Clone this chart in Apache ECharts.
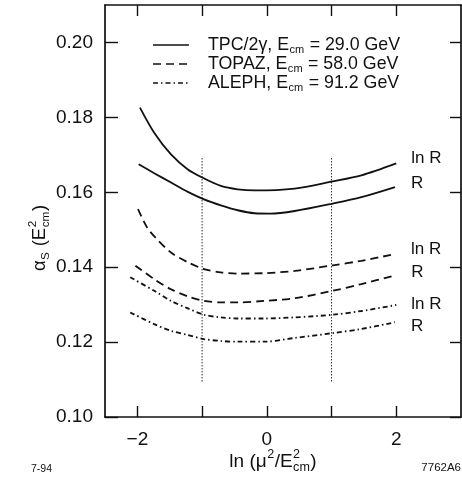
<!DOCTYPE html>
<html>
<head>
<meta charset="utf-8">
<script src="https://cdn.jsdelivr.net/npm/echarts@6/dist/echarts.min.js"></script>
<style>
html,body{margin:0;padding:0;background:#fff;}
#chart{width:462px;height:479px;}
</style>
</head>
<body>
<div id="chart"></div>
<script>
// ---- data (x = ln(mu^2/Ecm^2), y = alpha_s) ----
const tpcLnR   = [[-1.96,0.1826],[-1.74,0.1759],[-1.48,0.1701],[-1.22,0.1661],[-0.97,0.1637],[-0.71,0.1617],[-0.45,0.1608],[-0.19,0.1605],[0.43,0.1610],[1.02,0.1629],[1.46,0.1645],[2.0,0.1677]];
const tpcR     = [[-1.98,0.1675],[-1.74,0.1651],[-1.48,0.1626],[-1.22,0.1601],[-0.97,0.1581],[-0.71,0.1565],[-0.45,0.1552],[-0.19,0.1544],[0.05,0.1543],[0.43,0.1550],[1.02,0.1570],[1.46,0.1587],[1.98,0.1614]];
const topazLnR = [[-1.99,0.1555],[-1.85,0.1506],[-1.72,0.1479],[-1.48,0.1439],[-1.22,0.1413],[-0.97,0.1395],[-0.71,0.1386],[-0.45,0.1383],[-0.04,0.1384],[0.43,0.1390],[1.02,0.1405],[1.46,0.1417],[1.98,0.1435]];
const topazR   = [[-2.03,0.1404],[-1.74,0.1368],[-1.48,0.1341],[-1.22,0.1322],[-0.97,0.1310],[-0.71,0.1306],[-0.45,0.1306],[-0.04,0.1310],[0.43,0.1317],[1.02,0.1337],[1.46,0.1355],[2.0,0.1379]];
const alephLnR = [[-2.11,0.1373],[-1.74,0.1337],[-1.48,0.1310],[-1.22,0.1290],[-0.97,0.1273],[-0.71,0.1266],[-0.45,0.1263],[-0.04,0.1263],[0.43,0.1266],[1.02,0.1273],[1.46,0.1283],[2.0,0.1299]];
const alephR   = [[-2.11,0.1279],[-1.74,0.1248],[-1.48,0.1230],[-1.22,0.1219],[-0.97,0.1208],[-0.71,0.1203],[-0.45,0.1201],[-0.04,0.1201],[0.43,0.1211],[1.02,0.1224],[1.46,0.1235],[1.98,0.1253]];
const dotLineX = [-1, 1];
const dotLineY = [0.1095, 0.1696];
const xTicks = [-2, -1, 0, 1, 2];
const xLabels = [-2, 0, 2];
const yTicks = [0.10, 0.12, 0.14, 0.16, 0.18, 0.20];
const legendNames = ['TPC/2\u03b3, E', 'TOPAZ, E', 'ALEPH, E'];
const legendTails = [' = 29.0 GeV', ' = 58.0 GeV', ' = 91.2 GeV'];

// ---- styling helpers ----
const FONT = '"Liberation Sans", Arial, Helvetica, sans-serif';
const INK = '#111';
const DASH = [8, 5];
const DASHDOT = [5, 3, 1.5, 3];
const mctx = document.createElement('canvas').getContext('2d');
function tw(s, size) { mctx.font = size + 'px ' + FONT; return mctx.measureText(s).width; }
function txt(s, x, y, size) {
  return { type: 'text', x: x, y: y, silent: true,
    style: { text: s, fontSize: size, fontFamily: FONT, fill: INK, align: 'left', verticalAlign: 'middle' } };
}
// parts: strings (normal) or {sup, sub} stacked
function mathRow(parts, size, subScale) {
  const ss = size * (subScale || 0.62);
  let x = 0; const els = [];
  parts.forEach(p => {
    if (typeof p === 'string') { els.push(txt(p, x, 0, size)); x += tw(p, size); }
    else {
      let w = 0;
      if (p.sup) { els.push(txt(p.sup, x + 0.5, -size * 0.40, ss)); w = Math.max(w, tw(p.sup, ss) + 0.5); }
      if (p.sub) { els.push(txt(p.sub, x + 0.5, size * 0.30, ss)); w = Math.max(w, tw(p.sub, ss) + 0.5); }
      x += w + 0.5;
    }
  });
  return { els, width: x };
}
function centeredGroup(parts, size, cx, cy, rot, subScale) {
  const r = mathRow(parts, size, subScale);
  r.els.forEach(e => { e.x -= r.width / 2; });
  return { type: 'group', x: cx, y: cy, rotation: rot || 0, children: r.els };
}

const graphics = [];
// axis titles
graphics.push(centeredGroup(['ln (\u03bc', { sup: '2' }, '/E', { sup: '2', sub: 'cm' }, ')'], 19, 273, 462, 0, 0.66));
graphics.push(centeredGroup(['\u03b1', { sub: 'S' }, ' (E', { sup: '2', sub: 'cm' }, ')'], 18.5, 40, 238, Math.PI / 2, 0.64));
// legend
const legendDash = [null, DASH, DASHDOT];
const legendY = [45, 64, 83];
legendNames.forEach((nm, i) => {
  graphics.push({ type: 'line', silent: true, shape: { x1: 153, y1: legendY[i], x2: 189, y2: legendY[i] },
    style: { stroke: INK, lineWidth: 1.6, lineDash: legendDash[i] } });
  const r = mathRow([nm, { sub: 'cm' }, legendTails[i]], 17.8);
  graphics.push({ type: 'group', x: 208, y: legendY[i], children: r.els });
});
// figure codes
graphics.push(txt('7-94', 31, 469, 10.5));
graphics.push({ type: 'text', x: 461, y: 468, silent: true,
  style: { text: '7762A6', fontSize: 11.5, fontFamily: FONT, fill: INK, align: 'right', verticalAlign: 'middle' } });

function curve(data, dash, lbl, off) {
  return {
    type: 'line', data: data, smooth: 0.3, showSymbol: false, symbol: 'none', silent: true,
    lineStyle: { color: INK, width: 1.8, type: dash || 'solid' },
    endLabel: { show: true, formatter: lbl, distance: 0, offset: off, color: INK, fontSize: 17,
      fontFamily: FONT, align: 'left', verticalAlign: 'middle' },
    xAxisIndex: 0, yAxisIndex: 0
  };
}
function dotted(x) {
  return { type: 'line', data: [[x, dotLineY[0]], [x, dotLineY[1]]], showSymbol: false, symbol: 'none', silent: true,
    lineStyle: { color: INK, width: 1, type: [1.3, 1.7] } };
}

const axisLine = { show: true, onZero: false, lineStyle: { color: INK, width: 1.7 } };
const option = {
  animation: false,
  backgroundColor: '#fff',
  grid: { left: 105, right: 1, top: 5, bottom: 62, containLabel: false },
  xAxis: [
    { type: 'value', min: -2.5, max: 3, position: 'bottom', axisLine: axisLine,
      axisTick: { show: true, inside: true, length: 11, customValues: xTicks, lineStyle: { color: INK, width: 1.4 } },
      axisLabel: { show: true, customValues: xLabels, margin: 13, fontSize: 19, fontFamily: FONT, color: INK,
        formatter: v => (v < 0 ? '\u2212' + (-v) : String(v)) },
      splitLine: { show: false } },
    { type: 'value', min: -2.5, max: 3, position: 'top', axisLine: axisLine,
      axisTick: { show: true, inside: true, length: 11, customValues: xTicks, lineStyle: { color: INK, width: 1.4 } },
      axisLabel: { show: false }, splitLine: { show: false } }
  ],
  yAxis: [
    { type: 'value', min: 0.10, max: 0.21, position: 'left', axisLine: axisLine,
      axisTick: { show: true, inside: true, length: 13, customValues: yTicks, lineStyle: { color: INK, width: 1.4 } },
      axisLabel: { show: true, customValues: yTicks, margin: 12, fontSize: 19, fontFamily: FONT, color: INK,
        formatter: v => v.toFixed(2) },
      splitLine: { show: false } },
    { type: 'value', min: 0.10, max: 0.21, position: 'right', axisLine: axisLine,
      axisTick: { show: true, inside: true, length: 11, customValues: yTicks, lineStyle: { color: INK, width: 1.4 } },
      axisLabel: { show: false }, splitLine: { show: false } }
  ],
  graphic: graphics,
  series: [
    curve(tpcLnR, null, 'ln R', [15, -5]),
    curve(tpcR, null, 'R', [16, -4]),
    curve(topazLnR, DASH, 'ln R', [16, -5]),
    curve(topazR, DASH, 'R', [15, -3]),
    curve(alephLnR, DASHDOT, 'ln R', [15, -1]),
    curve(alephR, DASHDOT, 'R', [16, 4]),
    dotted(dotLineX[0]),
    dotted(dotLineX[1])
  ]
};
const chart = echarts.init(document.getElementById('chart'), null, { renderer: 'canvas' });
chart.setOption(option);
</script>
</body>
</html>
